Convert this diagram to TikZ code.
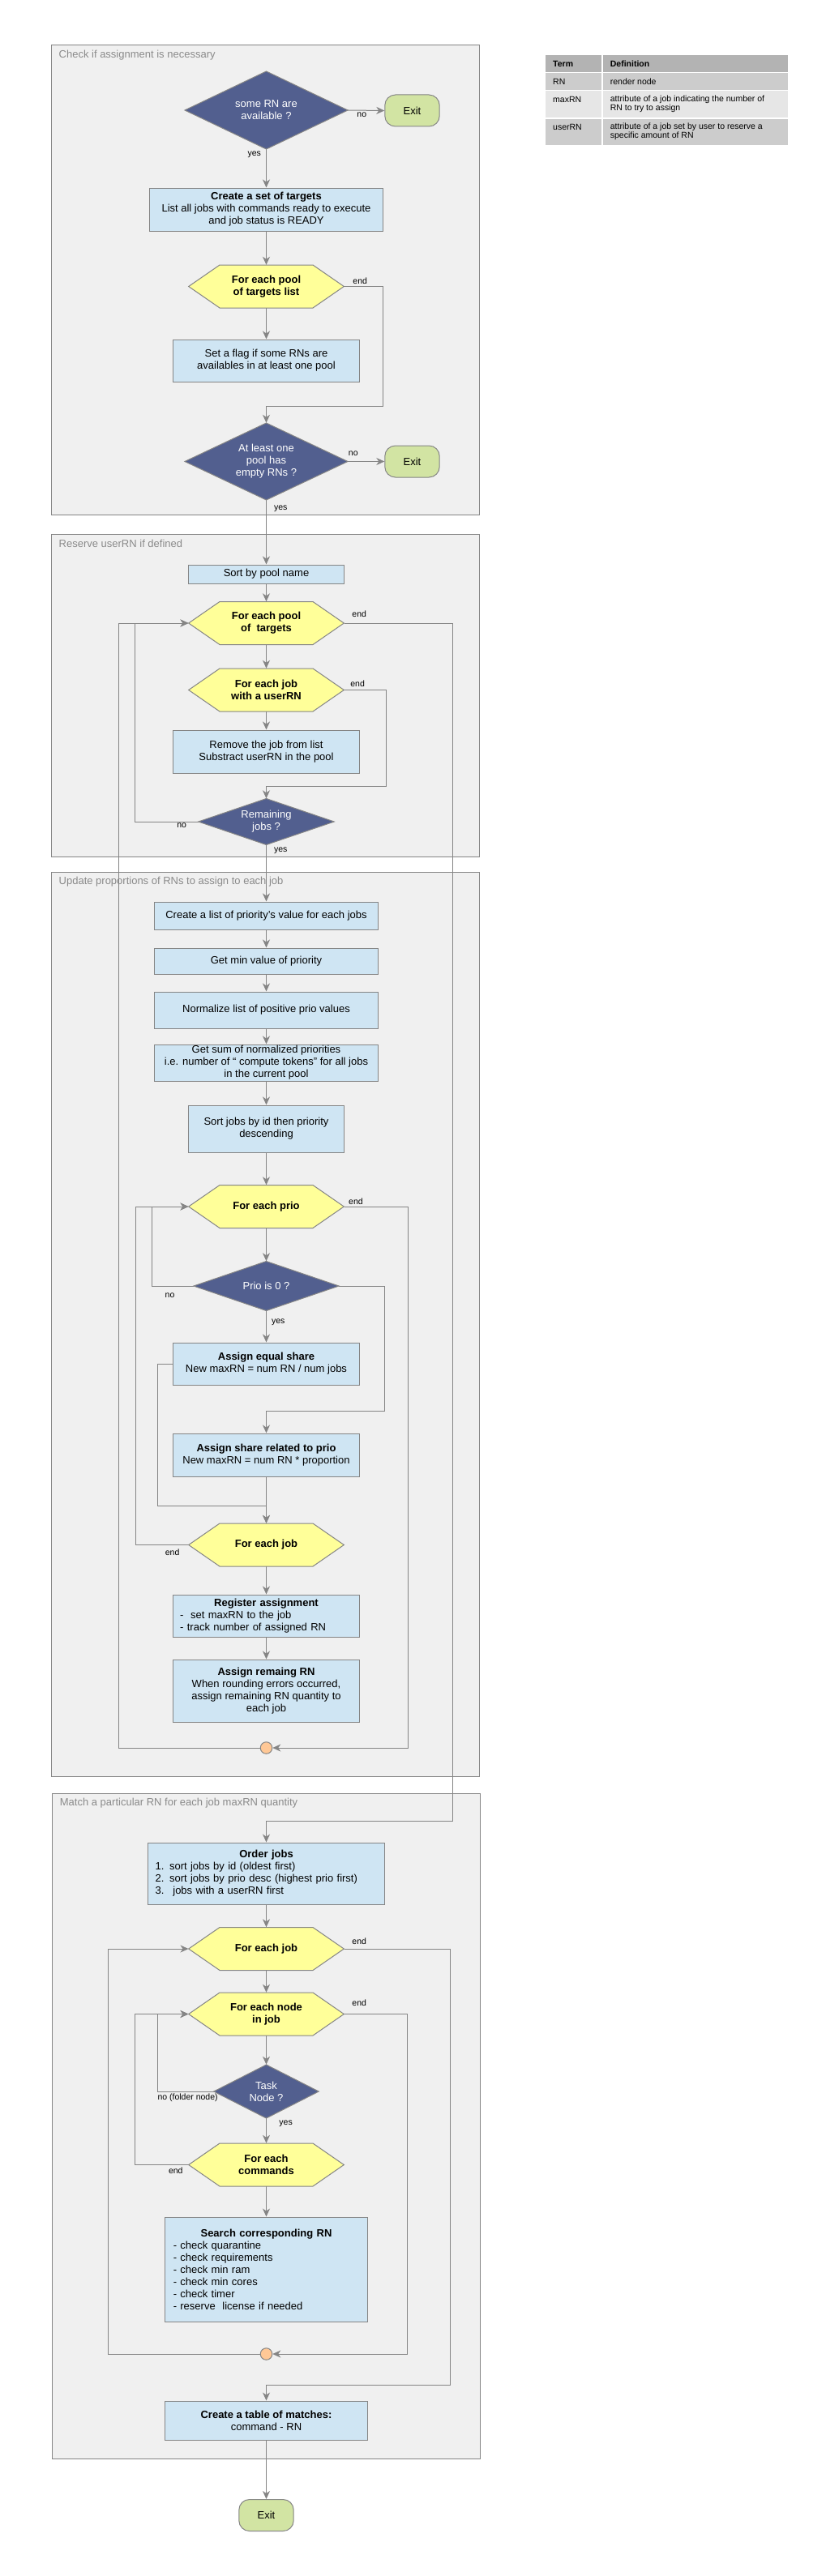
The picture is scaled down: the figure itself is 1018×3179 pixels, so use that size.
\documentclass[tikz,border=0pt]{standalone}
\usepackage{fontspec}
\setmainfont{Liberation Sans}
\usetikzlibrary{arrows.meta}

\definecolor{secfill}{HTML}{F0F0F0}
\definecolor{lgray}{HTML}{858585}
\definecolor{boxblue}{HTML}{CFE5F3}
\definecolor{hexyel}{HTML}{FFFF99}
\definecolor{diablue}{HTML}{525F8F}
\definecolor{exitgreen}{HTML}{D2E4A3}
\definecolor{circorange}{HTML}{FFC896}
\definecolor{titlegray}{HTML}{8A8A8A}
\definecolor{thead}{HTML}{B3B3B3}
\definecolor{trowa}{HTML}{CCCCCC}
\definecolor{trowb}{HTML}{E6E6E6}

\newcommand{\mainsize}{\fontsize{13}{15}\selectfont}
\newcommand{\hexa}[4]{%
  \path[hexshape] (#2,#3) ++(-95.8,0) -- ++(38.3,-26.5) -- ++(115,0) -- ++(38.3,26.5) -- ++(-38.3,26.5) -- ++(-115,0) -- cycle;
  \node[hexlabel] (#1) at (#2,#3) {#4};}
\newcommand{\diam}[6]{%
  \path[diashape] (#2,#3) ++(-#4/2,0) -- ++(#4/2,-#5/2) -- ++(#4/2,#5/2) -- ++(-#4/2,#5/2) -- cycle;
  \node[diatext, minimum width=#4pt, minimum height=#5pt] (#1) at (#2,#3) {#6};}

\begin{document}
\begin{tikzpicture}[x=1pt,y=-1pt,
  sect/.style={draw=lgray, fill=secfill, line width=1pt},
  secttitle/.style={anchor=west, inner sep=0, text=titlegray, font=\mainsize},
  pbox/.style={draw=lgray, fill=boxblue, line width=1pt, inner sep=2pt, align=center, font=\mainsize},
  hexshape/.style={draw=lgray, fill=hexyel, line width=1pt},
  hexlabel/.style={inner sep=0, minimum width=191.6pt, minimum height=53pt, align=center, font=\bfseries\mainsize},
  diashape/.style={draw=lgray, fill=diablue, line width=1pt},
  diatext/.style={inner sep=0, align=center, text=white, font=\mainsize},
  exitnode/.style={draw=lgray, fill=exitgreen, line width=1pt, rounded corners=13pt, minimum width=67.4pt, minimum height=39pt, inner sep=0, font=\mainsize},
  joint/.style={circle, draw=lgray, fill=circorange, line width=1pt, minimum size=14.5pt, inner sep=0},
  arr/.style={draw=lgray, line width=1pt, -{Stealth[length=10pt,width=9pt,inset=3pt]}},
  lbl/.style={inner sep=0, font=\fontsize{10.5}{12}\selectfont, text height=7.5pt, text depth=2pt},
  tcell/.style={draw=white, line width=1.5pt},
  ttext/.style={anchor=west, inner sep=0, align=left, font=\fontsize{10.5}{11.5}\selectfont}
]
\fill[white] (0,0) rectangle (1018,3179);
\useasboundingbox (0,0) rectangle (1018,3179);

% ---------- sections ----------
\path[sect] (63.2,56) rectangle (591.6,635);
\path[sect] (63.2,659) rectangle (591.6,1057);
\path[sect] (63.2,1076) rectangle (591.6,2192);
\path[sect] (64.2,2213) rectangle (592.6,3034);
\node[secttitle] (t1) at (72.5,68) {Check if assignment is necessary};
\node[secttitle] (t2) at (72.5,671) {Reserve userRN if defined};
\node[secttitle] (t3) at (72.5,1088) {Update proportions of RNs to assign to each job};
\node[secttitle] (t4) at (73.7,2225) {Match a particular RN for each job maxRN quantity};

% ---------- table ----------
\path[tcell, fill=thead] (672.7,67.5) rectangle (743,89.5);
\path[tcell, fill=thead] (743,67.5) rectangle (973,89.5);
\path[tcell, fill=trowa] (672.7,89.5) rectangle (743,111.5);
\path[tcell, fill=trowa] (743,89.5) rectangle (973,111.5);
\path[tcell, fill=trowb] (672.7,111.5) rectangle (743,146);
\path[tcell, fill=trowb] (743,111.5) rectangle (973,146);
\path[tcell, fill=trowa] (672.7,146) rectangle (743,179.5);
\path[tcell, fill=trowa] (743,146) rectangle (973,179.5);
\node[ttext, font=\bfseries\fontsize{10.5}{11.5}\selectfont] (th1) at (682,78.5) {Term};
\node[ttext, font=\bfseries\fontsize{10.5}{11.5}\selectfont] (th2) at (752.7,78.5) {Definition};
\node[ttext] (tr1a) at (682,100.7) {RN};
\node[ttext] (tr1b) at (752.7,100.7) {render node};
\node[ttext] (tr2a) at (682,122.7) {maxRN};
\node[ttext] (tr2b) at (752.7,128.4) {attribute of a job indicating the number of\\RN to try to assign};
\node[ttext] (tr3a) at (682,156.7) {userRN};
\node[ttext] (tr3b) at (752.7,162.4) {attribute of a job set by user to reserve a\\specific amount of RN};

% ---------- section 1 ----------
\diam{d1}{328.5}{136}{201}{96}{some RN are\\available ?}
\node[exitnode] (exit1) at (508.5,136.5) {Exit};
\node[pbox, minimum width=288.4pt, minimum height=53pt] (create) at (328.5,258.5)
  {\textbf{Create a set of targets}\\List all jobs with commands ready to execute\\and job status is READY};
\hexa{hex1}{328.5}{353.5}{For each pool\\of targets list}
\node[pbox, minimum width=229.5pt, minimum height=52pt] (flag) at (328.5,445)
  {Set a flag if some RNs are\\availables in at least one pool};
\diam{d2}{328.5}{569.5}{201}{95}{At least one\\pool has\\empty RNs ?}
\node[exitnode] (exit2) at (508.5,569.5) {Exit};

% ---------- section 2 ----------
\node[pbox, minimum width=192.6pt, minimum height=23pt, inner sep=0] (sort) at (328.5,708.5) {Sort by pool name};
\hexa{hex2}{328.5}{769}{For each pool\\of~ targets}
\hexa{hex3}{328.5}{851.5}{For each job\\with a userRN}
\node[pbox, minimum width=229.5pt, minimum height=53pt] (remove) at (328.5,927.5)
  {Remove the job from list\\Substract userRN in the pool};
\diam{d3}{328.5}{1014}{167.4}{57}{Remaining\\jobs ?}

% ---------- section 3 ----------
\node[pbox, minimum width=276.8pt, minimum height=34pt] (list) at (328.5,1130) {Create a list of priority's value for each jobs};
\node[pbox, minimum width=276.8pt, minimum height=32pt] (minp) at (328.5,1186) {Get min value of priority};
\node[pbox, minimum width=276.8pt, minimum height=45pt] (norm) at (328.5,1246.5) {Normalize list of positive prio values};
\node[pbox, minimum width=276.8pt, minimum height=45pt, inner sep=0] (sum) at (328.5,1311.5)
  {Get sum of normalized priorities\\i.e. number of “ compute tokens” for all jobs\\in the current pool};
\node[pbox, minimum width=192.6pt, minimum height=58pt] (sort2) at (328.5,1393) {Sort jobs by id then priority\\descending};
\hexa{hexprio}{328.5}{1489}{For each prio}
\diam{dprio}{328.5}{1587}{179}{61}{Prio is 0 ?}
\node[pbox, minimum width=229.5pt, minimum height=52pt] (equal) at (328.5,1683)
  {\textbf{Assign equal share}\\New maxRN = num RN / num jobs};
\node[pbox, minimum width=229.5pt, minimum height=53pt] (related) at (328.5,1795.5)
  {\textbf{Assign share related to prio}\\New maxRN = num RN * proportion};
\hexa{hexjob}{328.5}{1906.5}{For each job}
\node[pbox, minimum width=229.5pt, minimum height=52pt, text width=212.6pt, align=left] (register) at (328.5,1994)
  {\makebox[212.6pt]{\textbf{Register assignment}}\\-~ set maxRN to the job\\- track number of assigned RN};
\node[pbox, minimum width=229.5pt, minimum height=77pt] (remaining) at (328.5,2086.5)
  {\textbf{Assign remaing RN}\\When rounding errors occurred,\\assign remaining RN quantity to\\each job};
\node[joint] (circ1) at (328.5,2157) {};

% ---------- section 4 ----------
\node[pbox, minimum width=292pt, minimum height=76pt, text width=273.6pt, align=left] (order) at (328.5,2312)
  {\makebox[273.6pt]{\textbf{Order jobs}}\\1. sort jobs by id (oldest first)\\2. sort jobs by prio desc (highest prio first)\\3.~ jobs with a userRN first};
\hexa{hexjob2}{328.5}{2405}{For each job}
\hexa{hexnode}{328.5}{2485.5}{For each node\\in job}
\diam{dtask}{328.5}{2581}{129.5}{66}{Task\\Node ?}
\hexa{hexcmd}{328.5}{2671.5}{For each\\commands}
\node[pbox, minimum width=250.5pt, minimum height=129pt, text width=229.5pt, align=left] (search) at (328.5,2800.5)
  {\makebox[229.5pt]{\textbf{Search corresponding RN}}\\- check quarantine\\- check requirements\\- check min ram\\- check min cores\\- check timer\\- reserve~ license if needed};
\node[joint] (circ2) at (328.5,2905) {};
\node[pbox, minimum width=250.5pt, minimum height=48pt] (matches) at (328.5,2987)
  {\textbf{Create a table of matches:}\\command - RN};
\node[exitnode] (exit3) at (328.5,3104) {Exit};

% ---------- connectors ----------
\draw[arr] (d1.east) -- (exit1.west);
\draw[arr] (d1.south) -- (create.north);
\draw[arr] (create.south) -- (hex1.north);
\draw[arr] (hex1.south) -- (flag.north);
\draw[arr] (hex1.east) -- (472.6,353.5) -- (472.6,501) -- (328.5,501) -- (d2.north);
\draw[arr] (d2.east) -- (exit2.west);
\draw[arr] (d2.south) -- (sort.north);
\draw[arr] (sort.south) -- (hex2.north);
\draw[arr] (hex2.south) -- (hex3.north);
\draw[arr] (hex3.south) -- (remove.north);
\draw[arr] (hex3.east) -- (476.5,851.5) -- (476.5,970.7) -- (328.5,970.7) -- (d3.north);
\draw[arr] (d3.west) -- (166.3,1014) -- (166.3,769) -- (hex2.west);
\draw[arr] (d3.south) -- (list.north);
\draw[arr] (hex2.east) -- (558.6,769) -- (558.6,2247) -- (328.5,2247) -- (order.north);
\draw[arr] (circ1.west) -- (146.3,2157) -- (146.3,769) -- (hex2.west);

\draw[arr] (list.south) -- (minp.north);
\draw[arr] (minp.south) -- (norm.north);
\draw[arr] (norm.south) -- (sum.north);
\draw[arr] (sum.south) -- (sort2.north);
\draw[arr] (sort2.south) -- (hexprio.north);
\draw[arr] (hexprio.south) -- (dprio.north);
\draw[arr] (dprio.south) -- (equal.north);
\draw[arr] (dprio.west) -- (187.4,1587) -- (187.4,1489) -- (hexprio.west);
\draw[arr] (dprio.east) -- (474.7,1587) -- (474.7,1741.7) -- (328.5,1741.7) -- (related.north);
\draw[arr] (equal.west) -- (194.4,1683) -- (194.4,1858) -- (328.5,1858) -- (hexjob.north);
\draw[arr] (related.south) -- (hexjob.north);
\draw[arr] (hexjob.west) -- (167.4,1906.5) -- (167.4,1489) -- (hexprio.west);
\draw[arr] (hexjob.south) -- (register.north);
\draw[arr] (register.south) -- (remaining.north);
\draw[arr] (hexprio.east) -- (503.9,1489) -- (503.9,2157) -- (circ1.east);

\draw[arr] (order.south) -- (hexjob2.north);
\draw[arr] (hexjob2.south) -- (hexnode.north);
\draw[arr] (hexnode.south) -- (dtask.north);
\draw[arr] (dtask.south) -- (hexcmd.north);
\draw[arr] (dtask.west) -- (194.4,2581) -- (194.4,2485.5) -- (hexnode.west);
\draw[arr] (hexcmd.west) -- (166.3,2671.5) -- (166.3,2485.5) -- (hexnode.west);
\draw[arr] (hexcmd.south) -- (search.north);
\draw[arr] (hexnode.east) -- (502.1,2485.5) -- (502.1,2905) -- (circ2.east);
\draw[arr] (circ2.west) -- (133.4,2905) -- (133.4,2405) -- (hexjob2.west);
\draw[arr] (hexjob2.east) -- (555.5,2405) -- (555.5,2943) -- (328.5,2943) -- (matches.north);
\draw[arr] (matches.south) -- (exit3.north);

% ---------- labels ----------
\node[lbl] (l1) at (446.3,142) {no};
\node[lbl] (l2) at (313.7,190) {yes};
\node[lbl] (l3) at (444.2,348) {end};
\node[lbl] (l4) at (435.8,560) {no};
\node[lbl] (l5) at (346.3,627) {yes};
\node[lbl] (l6) at (443.2,759) {end};
\node[lbl] (l7) at (441.1,845) {end};
\node[lbl] (l8) at (224.2,1019) {no};
\node[lbl] (l9) at (346.3,1049) {yes};
\node[lbl] (l10) at (439,1484) {end};
\node[lbl] (l11) at (209.5,1599) {no};
\node[lbl] (l12) at (343.2,1631) {yes};
\node[lbl] (l13) at (212.6,1917) {end};
\node[lbl] (l14) at (443.2,2397) {end};
\node[lbl] (l15) at (443.2,2473) {end};
\node[lbl] (l16) at (231.6,2589) {no (folder node)};
\node[lbl] (l17) at (352.6,2620) {yes};
\node[lbl] (l18) at (216.8,2680) {end};
\end{tikzpicture}
\end{document}
